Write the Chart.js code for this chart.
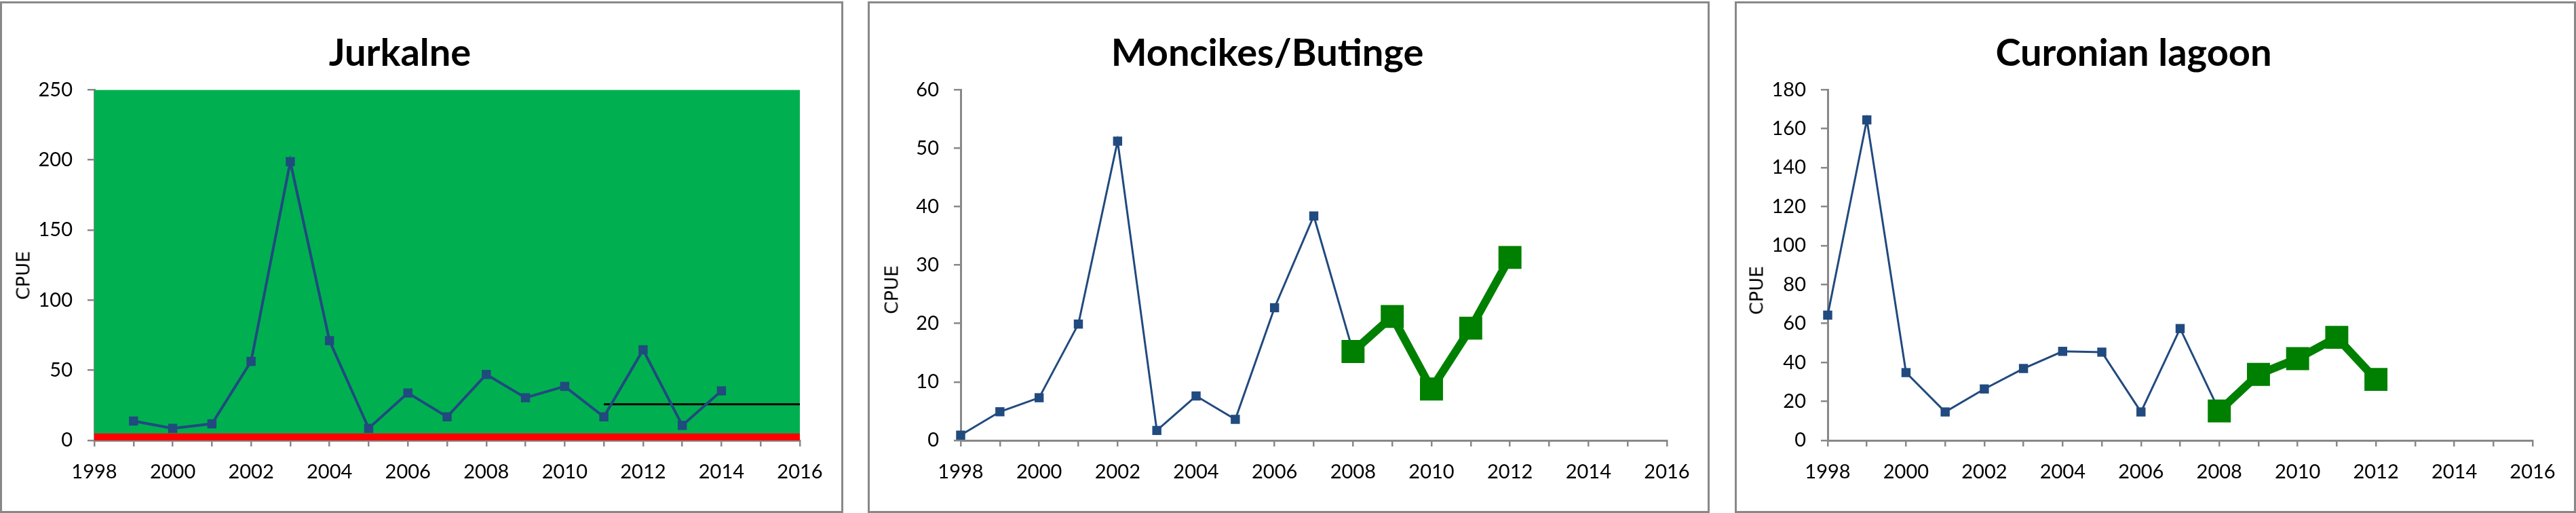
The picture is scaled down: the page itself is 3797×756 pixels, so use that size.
<!DOCTYPE html>
<html>
<head>
<meta charset="utf-8">
<script src="https://cdn.jsdelivr.net/npm/chart.js@4/dist/chart.umd.min.js"></script>
<style>
  body { margin: 0; background: #fff; width: 3797px; height: 756px; position: relative; overflow: hidden; }
  .panel { position: absolute; top: 2px; height: 754px; border: 3px solid #888; box-sizing: border-box; }
  canvas { position: absolute; top: 0; }
  .ytitle { position: absolute; font-family: "DejaVu Sans", sans-serif; font-size: 27px; color: #000;
            transform: translate(-50%, -50%) rotate(-90deg); white-space: nowrap; }
</style>
</head>
<body>
<div class="panel" style="left:0px;width:1243px"></div>
<div class="panel" style="left:1279px;width:1241px"></div>
<div class="panel" style="left:2557px;width:1240px"></div>
<canvas id="c1" width="1243" height="756" style="left:0px"></canvas>
<canvas id="c2" width="1241" height="756" style="left:1279px"></canvas>
<canvas id="c3" width="1240" height="756" style="left:2557px"></canvas>
<div class="ytitle" style="left:34px;top:406px">CPUE</div>
<div class="ytitle" style="left:1314px;top:427px">CPUE</div>
<div class="ytitle" style="left:2589px;top:428px">CPUE</div>
<script>
// Jurkalne
const jurkalneYears = [1999, 2000, 2001, 2002, 2003, 2004, 2005, 2006, 2007, 2008, 2009, 2010, 2011, 2012, 2013, 2014];
const jurkalneCpue = [13.8, 8.6, 11.8, 56.3, 198.7, 71.1, 8.6, 33.8, 16.8, 47.0, 30.4, 38.5, 16.8, 64.6, 10.7, 35.3];
const bandYears = [1998, 2016];
const greenBand = [250, 250];
const redBand = [5, 5];
const refYears = [2011, 2016];
const refLevel = [25.7, 25.7];

// Moncikes/Butinge
const moncikesYears = [1998, 1999, 2000, 2001, 2002, 2003, 2004, 2005, 2006, 2007, 2008];
const moncikesCpue = [0.9, 4.9, 7.3, 19.9, 51.2, 1.7, 7.6, 3.6, 22.7, 38.4, 15.2];
const moncikesRecentYears = [2008, 2009, 2010, 2011, 2012];
const moncikesRecent = [15.2, 21.2, 8.8, 19.2, 31.3];

// Curonian lagoon
const curonianYears = [1998, 1999, 2000, 2001, 2002, 2003, 2004, 2005, 2006, 2007, 2008];
const curonianCpue = [64.3, 164.5, 34.8, 14.6, 26.4, 36.9, 45.7, 45.3, 14.6, 57.4, 15.1];
const curonianRecentYears = [2008, 2009, 2010, 2011, 2012];
const curonianRecent = [15.1, 33.9, 42.0, 52.9, 31.3];

const BLUE = '#214A7F';
const GREEN = '#008000';
const AXIS = '#888888';

function pts(xs, ys) {
    return xs.map((x, i) => ({x: x, y: ys[i]}));
}

function blueLine(xs, ys, width) {
    return {
        data: pts(xs, ys), borderColor: BLUE, borderWidth: width, backgroundColor: BLUE,
        pointStyle: 'rect', pointRadius: 9.5, pointBorderWidth: 0, pointBackgroundColor: BLUE,
        clip: false, order: 1
    };
}

function greenLine(xs, ys) {
    return {
        data: pts(xs, ys), borderColor: GREEN, borderWidth: 12, backgroundColor: GREEN,
        pointStyle: 'rect', pointRadius: 24, pointBorderWidth: 0, pointBackgroundColor: GREEN,
        clip: false, order: 0
    };
}

function makeChart(id, title, datasets, yMax, yStep, area) {
    const canvas = document.getElementById(id);
    return new Chart(canvas.getContext('2d'), {
        type: 'line',
        data: {datasets: datasets},
        options: {
            responsive: false,
            animation: false,
            layout: {padding: {left: 0, top: 0, right: canvas.width - area.right, bottom: 0}},
            plugins: {
                legend: {display: false},
                tooltip: {enabled: false},
                title: {
                    display: true, text: title, color: '#000',
                    font: {family: 'Lato', size: 56, weight: 'bold'},
                    padding: {top: 45, bottom: 20}
                }
            },
            scales: {
                x: {
                    type: 'linear', min: 1998, max: 2016,
                    afterFit: s => { s.height = 107; },
                    border: {color: AXIS, width: 3},
                    grid: {drawOnChartArea: false, color: AXIS, lineWidth: 2.5, tickLength: 9},
                    ticks: {
                        stepSize: 1, maxTicksLimit: 100, autoSkip: false, maxRotation: 0,
                        color: '#000', font: {family: 'Lato', size: 29}, padding: 20,
                        callback: v => (v % 2 === 0 ? String(v) : '')
                    }
                },
                y: {
                    min: 0, max: yMax,
                    afterFit: s => { s.width = area.left; },
                    border: {color: AXIS, width: 3},
                    grid: {drawOnChartArea: false, color: AXIS, lineWidth: 2.5, tickLength: 10},
                    ticks: {
                        stepSize: yStep, maxTicksLimit: 100, color: '#000',
                        font: {family: 'Lato', size: 29}, padding: 22
                    }
                }
            }
        }
    });
}

makeChart('c1', 'Jurkalne', [
    {data: pts(bandYears, greenBand), fill: 'origin', backgroundColor: '#00B050', borderWidth: 0, pointRadius: 0, order: 5},
    {data: pts(bandYears, redBand), fill: 'origin', backgroundColor: '#FF0000', borderWidth: 0, pointRadius: 0, order: 4},
    {data: pts(refYears, refLevel), borderColor: '#000', borderWidth: 3, pointRadius: 0, order: 3},
    blueLine(jurkalneYears, jurkalneCpue, 4)
], 250, 50, {left: 139, right: 1179});

makeChart('c2', 'Moncikes/Butinge', [
    blueLine(moncikesYears, moncikesCpue, 3),
    greenLine(moncikesRecentYears, moncikesRecent)
], 60, 10, {left: 137, right: 1178});

makeChart('c3', 'Curonian lagoon', [
    blueLine(curonianYears, curonianCpue, 3),
    greenLine(curonianRecentYears, curonianRecent)
], 180, 20, {left: 137, right: 1176});
</script>
</body>
</html>
